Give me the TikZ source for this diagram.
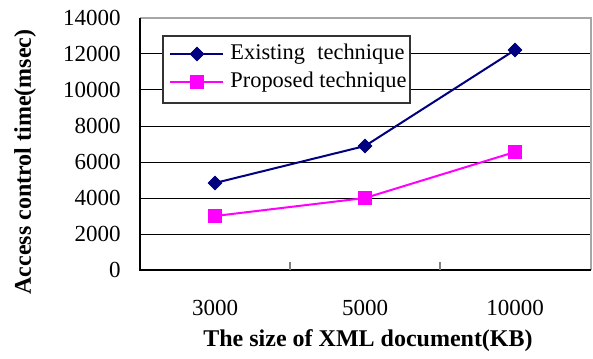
\documentclass[tikz,border=0pt]{standalone}
\usepackage{fontspec}
\setmainfont{Liberation Serif}
\usetikzlibrary{positioning,shapes.geometric}
\definecolor{navyline}{RGB}{0,0,128}
\definecolor{pinkline}{RGB}{255,0,255}
\tikzset{
  gridline/.style={black,line width=0.5pt},
  frameline/.style={gray!70,line width=0.7pt},
  axisline/.style={black,line width=0.7pt},
  ticklab/.style={font=\fontsize{11.5}{13}\selectfont,inner sep=0pt},
  leglab/.style={font=\fontsize{11.2}{13}\selectfont,inner sep=0pt},
  titlelab/.style={font=\bfseries\fontsize{12}{14}\selectfont,inner sep=0pt},
  exmark/.style={diamond,draw=navyline,fill=navyline,inner sep=0pt,minimum size=7pt},
  prmark/.style={rectangle,draw=pinkline,fill=pinkline,inner sep=0pt,minimum size=6.3pt},
  exline/.style={navyline,line width=1pt},
  prline/.style={pinkline,line width=1pt}
}

\begin{document}
\begin{tikzpicture}[x=0.5pt,y=-0.5pt]
\useasboundingbox (0,0) rectangle (593,358);

% grid and frame
\foreach \v in {1,...,6}
  \draw[gridline] (140,270-36*\v) -- (591,270-36*\v);
\draw[frameline] (140,18) -- (591,18) -- (591,270);
\draw[axisline] (591,270) -- (140,270) -- (140,18);
\foreach \t in {290,440}
  \draw[gray,line width=0.6pt] (\t,270) -- (\t,262);

% y tick labels
\foreach \v in {0,2000,...,14000}
  \node[ticklab,anchor=east] (y\v) at (121,270-\v*0.018) {\v};

% x tick labels
\node[ticklab] (x3000) at (215,308) {3000};
\node[ticklab] (x5000) at (365,308) {5000};
\node[ticklab] (x10000) at (515,308) {10000};

% axis titles
\node[titlelab] (xtitle) at (368,341) {The size of XML document(KB)};
\node[titlelab,rotate=90] (ytitle) at (25,162) {Access control time(msec)};

% data
\draw[exline] (215,183) -- (365,146) -- (515,50);
\draw[prline] (215,216) -- (365,198) -- (515,152);
\node[exmark] (e1) at (215,183) {};
\node[exmark] (e2) at (365,146) {};
\node[exmark] (e3) at (515,50) {};
\node[prmark] (p1) at (215,216) {};
\node[prmark] (p2) at (365,198) {};
\node[prmark] (p3) at (515,152) {};

% legend
\node[draw=black!80,fill=white,line width=0.6pt,minimum width=123.5pt,minimum height=33.5pt,inner sep=0pt] (legend) at (286.5,69.5) {};
\coordinate (la) at (170,54);
\coordinate (lb) at (223,54);
\coordinate (lc) at (170,82);
\coordinate (ld) at (223,82);
\draw[exline] (la) -- (lb);
\draw[prline] (lc) -- (ld);
\node[exmark] (lex) at (197,54) {};
\node[prmark] (lpr) at (197,82) {};
\node[leglab,anchor=west] (lextext) at (230,54) {Existing\hspace{0.55em}technique};
\node[leglab,anchor=west] (lprtext) at (230,82) {Proposed technique};
\end{tikzpicture}
\end{document}
